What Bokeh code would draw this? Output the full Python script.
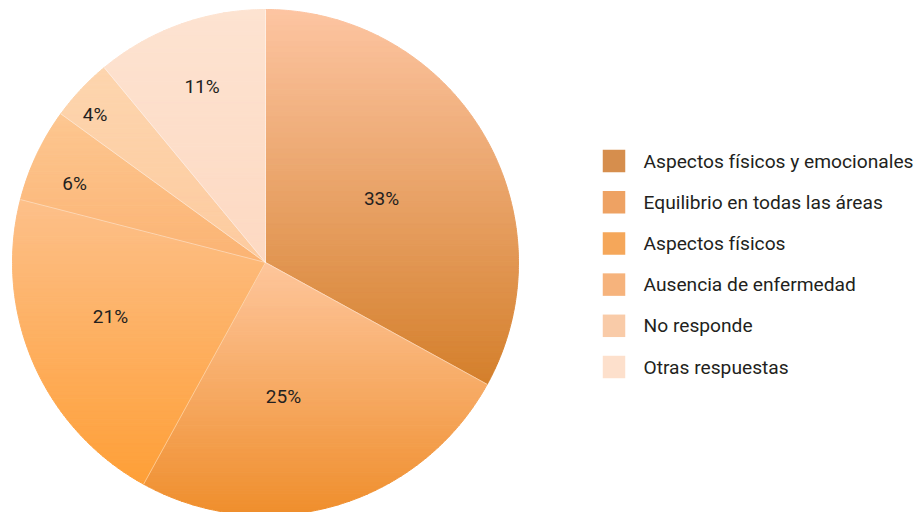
import numpy as np
from bokeh.plotting import figure
from bokeh.models import Range1d
from bokeh.core.properties import value
from bokeh.embed import file_html
from bokeh.resources import INLINE

# ---- data ----
categories = ["Aspectos físicos y emocionales", "Equilibrio en todas las áreas",
              "Aspectos físicos", "Ausencia de enfermedad", "No responde", "Otras respuestas"]
values = [33, 25, 21, 6, 4, 11]
labels = ["33%", "25%", "21%", "6%", "4%", "11%"]

# ---- styles ----
legend_colors = ["#d68e4d", "#eea263", "#f5a75a", "#f6b37c", "#f9cba8", "#fde0cc"]
grad_top = ["#fdc5a2", "#fec69c", "#fdc08a", "#fdc791", "#fdd5ae", "#fde3d1"]
grad_bottom = ["#d47f2b", "#ef8e2c", "#fe9f37", "#fbb373", "#fdcb9f", "#fdd9c2"]
label_radius = [0.524, 0.536, 0.649, 0.816, 0.891, 0.74]
label_angle_shift = [1.7, 8.6, 4.2, -2.8, -2.3, 0.0]  # degrees

CX, CY, R = 265.0, 262.0, 253.0
FONT = "Roboto"
TXT = "#231f20"
W, H = 917, 512


def hex2rgb(h):
    h = h.lstrip("#")
    return np.array([int(h[i:i + 2], 16) for i in (0, 2, 4)], dtype=float)


def rgb2hex(c):
    c = np.clip(np.round(c), 0, 255).astype(int)
    return "#%02x%02x%02x" % tuple(c)


def clip_half(poly, y0, keep_above):
    out = []
    n = len(poly)
    for i in range(n):
        p1 = poly[i]
        p2 = poly[(i + 1) % n]
        in1 = (p1[1] >= y0) if keep_above else (p1[1] <= y0)
        in2 = (p2[1] >= y0) if keep_above else (p2[1] <= y0)
        if in1:
            out.append(p1)
        if in1 != in2:
            t = (y0 - p1[1]) / (p2[1] - p1[1])
            out.append((p1[0] + t * (p2[0] - p1[0]), y0))
    return out


p = figure(width=W, height=H, x_range=Range1d(0, W), y_range=Range1d(H, 0),
           output_backend="svg", toolbar_location=None, min_border=0,
           outline_line_color=None, background_fill_color="white")
p.axis.visible = False
p.grid.visible = False

total = float(sum(values))
xs, ys, cols = [], [], []
sep_x, sep_y = [], []
lab_x, lab_y = [], []
start = 0.0
for k, v in enumerate(values):
    a0 = start / total * 2 * np.pi
    a1 = (start + v) / total * 2 * np.pi
    start += v
    n = max(3, int(np.degrees(a1 - a0) * 2))
    th = np.linspace(a0, a1, n)
    poly = [(CX, CY)] + [(CX + R * np.sin(t), CY - R * np.cos(t)) for t in th]
    yvals = [q[1] for q in poly]
    ymin, ymax = min(yvals), max(yvals)
    nb = 70
    edges = np.linspace(ymin, ymax, nb + 1)
    ct, cb = hex2rgb(grad_top[k]), hex2rgb(grad_bottom[k])
    for b in range(nb):
        seg = clip_half(poly, edges[b], True)
        if len(seg) < 3:
            continue
        seg = clip_half(seg, edges[b + 1], False)
        if len(seg) < 3:
            continue
        f = (b + 0.5) / nb
        xs.append([q[0] for q in seg])
        ys.append([q[1] for q in seg])
        cols.append(rgb2hex(ct + (cb - ct) * f))
    sep_x.append([CX, CX + R * np.sin(a0)])
    sep_y.append([CY, CY - R * np.cos(a0)])
    am = (a0 + a1) / 2 + np.radians(label_angle_shift[k])
    lab_x.append(CX + label_radius[k] * R * np.sin(am))
    lab_y.append(CY - label_radius[k] * R * np.cos(am))

p.patches(xs=xs, ys=ys, fill_color=cols, line_color=cols, line_width=1.0)
p.multi_line(xs=sep_x, ys=sep_y, line_color="white", line_width=0.7, line_alpha=0.6)

p.text(x=lab_x, y=lab_y, text=labels, text_align="center", text_baseline="middle",
       text_font=value(FONT), text_font_size="19px", text_color=TXT)

# ---- legend ----
ly = [160.5 + 41.2 * i for i in range(len(categories))]
p.rect(x=[613.5] * len(categories), y=ly, width=22.5, height=22.5,
       fill_color=legend_colors, line_color=None)
p.text(x=[643] * len(categories), y=ly, text=categories, text_align="left",
       text_baseline="middle", text_font=value(FONT), text_font_size="19.2px",
       text_color=TXT)

open("out.html", "w").write(file_html(p, INLINE))
